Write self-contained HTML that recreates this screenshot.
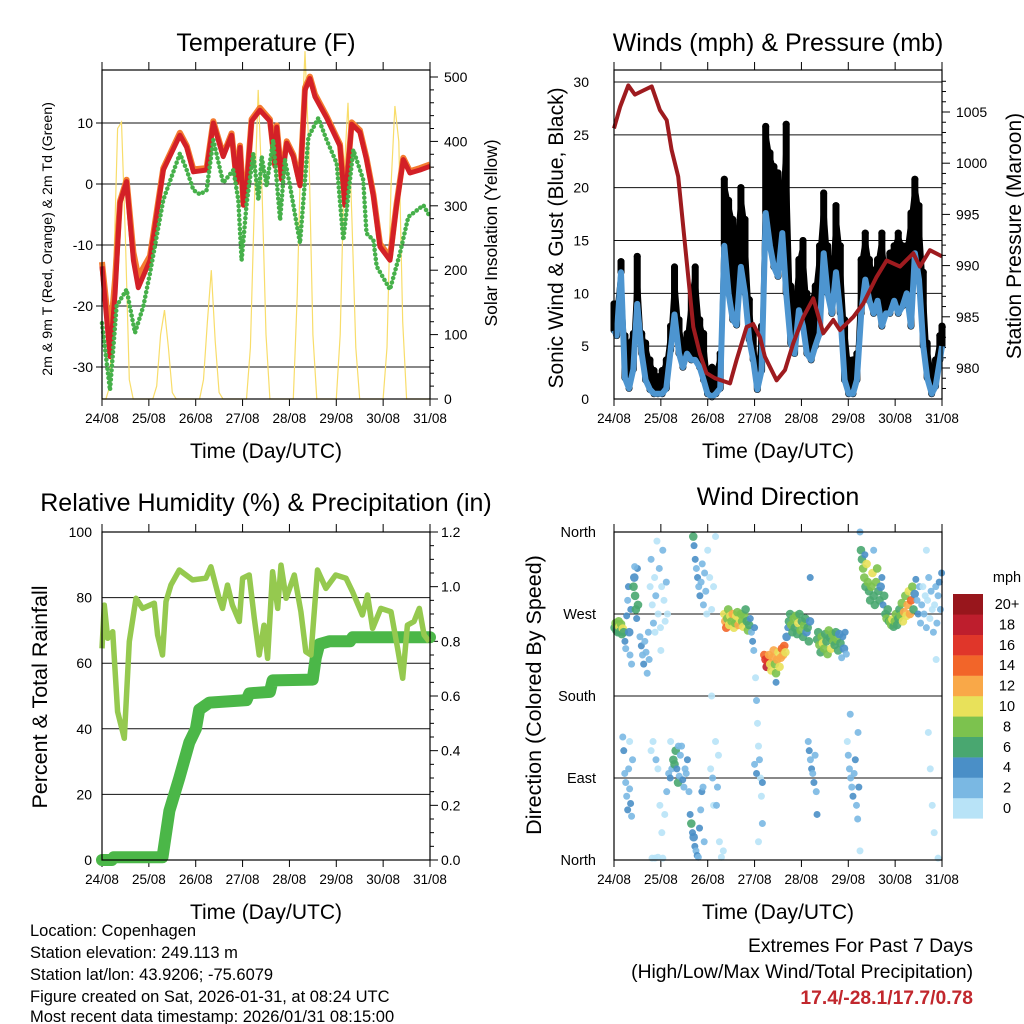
<!DOCTYPE html>
<html><head><meta charset="utf-8"><title>Weather station summary: temperature, winds, humidity and wind direction</title>
<style>
html,body{margin:0;padding:0;background:#fff;}
svg{display:block;font-family:"Liberation Sans",sans-serif;}
</style></head>
<body>
<svg id="chart" width="1024" height="1024" viewBox="0 0 1024 1024" xmlns="http://www.w3.org/2000/svg">
<rect width="1024" height="1024" fill="#fff"/>
<text x="266" y="51" font-size="25" text-anchor="middle">Temperature (F)</text>
<text x="778" y="51" font-size="25" text-anchor="middle">Winds (mph) &amp; Pressure (mb)</text>
<text x="266" y="511" font-size="25" text-anchor="middle">Relative Humidity (%) &amp; Precipitation (in)</text>
<text x="778" y="505" font-size="25" text-anchor="middle">Wind Direction</text>
<text transform="translate(52,239) rotate(-90)" font-size="14.2" text-anchor="middle">2m &amp; 9m T (Red, Orange) &amp; 2m Td (Green)</text>
<text transform="translate(497,233) rotate(-90)" font-size="17.5" text-anchor="middle">Solar Insolation (Yellow)</text>
<text transform="translate(563,238) rotate(-90)" font-size="21" text-anchor="middle">Sonic Wind &amp; Gust (Blue, Black)</text>
<text transform="translate(1021,236) rotate(-90)" font-size="21" text-anchor="middle">Station Pressure (Maroon)</text>
<text transform="translate(47,697) rotate(-90)" font-size="21.5" text-anchor="middle">Percent &amp; Total Rainfall</text>
<text transform="translate(541,695) rotate(-90)" font-size="21.5" text-anchor="middle">Direction (Colored By Speed)</text>
<text x="266" y="458" font-size="21" text-anchor="middle">Time (Day/UTC)</text>
<text x="778" y="458" font-size="21" text-anchor="middle">Time (Day/UTC)</text>
<text x="266" y="919" font-size="21" text-anchor="middle">Time (Day/UTC)</text>
<text x="778" y="919" font-size="21" text-anchor="middle">Time (Day/UTC)</text>
<g font-size="16.5">
<text x="30" y="936">Location: Copenhagen</text>
<text x="30" y="958">Station elevation: 249.113 m</text>
<text x="30" y="980">Station lat/lon: 43.9206; -75.6079</text>
<text x="30" y="1002">Figure created on Sat, 2026-01-31, at 08:24 UTC</text>
<text x="30" y="1024" dy="-2">Most recent data timestamp: 2026/01/31 08:15:00</text>
</g>
<g font-size="19.3" text-anchor="end">
<text x="973" y="952">Extremes For Past 7 Days</text>
<text x="973" y="978">(High/Low/Max Wind/Total Precipitation)</text>
<text x="973" y="1004" fill="#c1272d" font-weight="bold">17.4/-28.1/17.7/0.78</text>
</g>
</svg>
<script>
// ---------- Data ----------
const dayLabels = ["24/08","25/08","26/08","27/08","28/08","29/08","30/08","31/08"];
const tempTicks = [10,0,-10,-20,-30];
const solarTicks = [0,100,200,300,400,500];
const windTicks = [0,5,10,15,20,25,30];
const pressTicks = [980,985,990,995,1000,1005];
const rhTicks = [0,20,40,60,80,100];
const precipTicks = ["0.0","0.2","0.4","0.6","0.8","1.0","1.2"];
const dirTicks = ["North","East","South","West","North"];
const speedBins = ["0","2","4","6","8","10","12","14","16","18","20+"];

const tHours = [0,4.1,6.7,9.2,12.6,16.1,18.6,24.6,31.4,39.9,43.4,46.8,53.6,57,62.1,66.4,69,70.7,72.4,74.1,76.6,80.9,86,88.6,89.5,92,94.6,98,101.4,104,106.5,109.1,115.1,121.9,124.4,127.9,132.1,135.5,139,142.4,147.5,150.9,154.3,157.7,162.9,168];
const tRed = [-13.5,-28.3,-17.9,-3.1,0.4,-12.5,-17,-12.5,2.3,8,6,2,2.3,10,4.5,8,0.2,6,-3.5,-0.3,10.3,12.1,10.3,2.9,9.3,0.7,6.7,4.5,-0.3,15.4,17.3,14.3,10.8,6.2,-3.5,9.8,8.5,4,-2,-10.3,-12.5,-3.5,4,1.8,2.3,2.9];
const tOrange = [-12.8,-25.5,-15.5,-2.8,0.7,-11.2,-15.2,-11.8,2.6,8.4,6.3,2.4,2.6,10.3,4.8,8.3,0.5,6.3,-3.2,0,10.6,12.5,10.6,3.2,9.6,1,7,4.8,0,15.8,17.6,14.7,11.1,6.5,-3.2,10.1,8.8,4.3,-1.7,-9.8,-12,-3.2,4.3,2.1,2.6,3.2];
const tdHours = [0,4.1,7.5,12.6,16.9,21.2,24.6,31.4,39.9,43.4,46.8,50.2,53.6,57,62.1,67.3,69.8,71.5,74.1,77.5,80.1,81.8,84.3,87.7,91.2,93.7,96.3,101.4,105.7,110.8,115.1,120.2,123.6,128.7,133.8,135.5,139,140.7,147.5,152.6,156.9,164.6,168];
const tdGreen = [-22.8,-33.8,-20,-17.3,-24.4,-20,-14.6,-2.6,5,2.3,-1,-1.7,-1,7.2,0.2,2.3,-2.6,-12.5,-3.1,5,-2.6,4.5,-0.3,7.2,-5.9,4,-0.3,-9.7,7.7,10.8,7.2,3.4,-9.2,5.6,0.7,-8.1,-9.2,-13.5,-17.3,-11.4,-5.4,-3.5,-5.4];
const solarHours = [0,2,4,6,8,10,12,14,16,18,20,22,24,26,28,30,32,34,36,38,40,42,44,46,48,50,52,54,56,58,60,62,64,66,68,70,72,74,76,78,80,82,84,86,88,90,92,94,96,98,100,102,104,106,108,110,112,114,116,118,120,122,124,126,128,130,132,134,136,138,140,142,144,146,148,150,152,154,156,158,160,162,164,166,168];
const solarVals = [0,0,20,200,420,430,250,30,0,0,0,0,0,0,20,100,138,80,10,0,0,0,0,0,0,0,30,120,200,90,10,0,0,0,0,0,0,0,80,300,480,320,100,0,0,0,0,0,0,0,160,400,540,380,100,0,0,0,0,0,0,100,350,460,280,80,0,0,0,0,0,0,0,80,330,455,400,120,0,0,0,0,0,0,0];

const windHours = [0,1.4,3.6,5.6,7.7,9.9,11.9,14.2,16.2,18.4,20.5,22.5,24.7,26.8,29,31,33.3,35.3,37.4,39.6,41.6,43.9,45.9,47.9,50.2,52.2,54.4,56.5,58.7,60.8,62.8,65,67.1,69.3,71.3,73.4,75.6,77.7,79.9,81.9,84,86.2,88.2,90.5,92.5,94.7,96.8,98.8,101,103.1,105.3,107.4,109.4,111.6,113.7,115.9,118.1,120.2,122.4,124.4,126.6,128.7,130.8,133,135,137.2,139.3,141.3,143.5,145.6,147.8,149.9,152.1,154.1,156.2,158.4,160.4,162.7,164.7,166.9,168];
const windSpeed = [6.5,6,12,2,1,2.8,9,4.3,1.8,0.9,0.5,0.5,0.5,1,4.6,8,4.3,3,4.3,3.7,3.7,3,1.8,0.5,0.2,0.5,1,14.5,10,7.5,7,12.5,10,5.6,3.7,0.9,2.7,17.6,14.5,12.5,11.6,15.7,10,5.3,4.3,8.4,6.9,4.3,3.7,5,6.2,13.8,10,8.1,12,8.1,1.8,0.5,0.5,1.8,8.1,11.3,9.3,8.1,9.3,6.9,8.1,8.1,9.3,8.1,8.8,10,6.9,13.8,11.3,5,2,0.5,1.2,3.7,5];
const windGust = [9,9,13,6,5.3,6.2,13.5,6.2,5.3,3.7,2.7,2.1,2.7,3.7,6.9,12.5,7.5,5.3,6.2,10,12.5,7.5,6.2,2.7,3,2.7,4.3,20.8,18.8,17,15.4,20,17,9.4,6.2,2.7,6.9,25.8,23.3,22,21.4,19.5,26,10.7,9.4,13.2,15,10,9.4,10.7,14.5,19.5,14.5,12.5,18.3,14.5,7.5,3.7,3.7,4.3,13.2,15.7,13.2,12,13.2,15.7,12,13.8,14.5,15.7,14.5,14.5,17.6,20.8,18.3,12,5.3,2.7,3.7,6,6.9];
const pressHours = [0,3.1,7.3,10.7,15,19.3,23.5,27,29.5,32.9,37.2,40.6,44,47.4,51.7,59.4,62.8,67.9,71.3,74.8,77.3,83.3,87.6,91.8,97,102.1,107.2,112.3,115.7,122.6,127.7,134.5,139.6,146.5,153.3,156.7,161.8,168];
const pressVals = [1003.4,1005.5,1007.6,1006.7,1007.1,1007.5,1005.2,1004.2,1001.3,998.7,990.5,984,981.4,979.5,979,978.5,980.8,984,984.3,983,981.1,978.8,979.8,982.4,985,986.8,983.4,984.7,983.7,985,986.3,988.9,990.5,989.9,991.2,989.9,991.5,990.9];

const rhHours = [0,1.2,2.9,5.5,8,11.4,14,17.4,20.8,26.8,28.5,31,32.8,35.3,39.6,43,46.4,53.2,55.8,60,61.7,64.3,66.8,70.3,72,75.4,78,80.5,83,84.8,87.4,90,91.7,94.3,98.5,101.9,104.4,107,110.4,114.7,119.7,125,128.3,133.4,136,138.6,142.8,148,151.4,154,156.4,159.8,162.5,165,167.6];
const rhVals = [64.5,77.7,67.6,69.6,45.2,37.1,66.6,79.8,76.7,78.3,68.6,62.5,78.8,83.8,88.4,86.9,85.4,85.9,89.4,79.8,76.7,83.8,77.7,72.7,85.9,86.9,73.7,62.5,71.6,61.5,87.9,76.7,89.9,79.8,86.9,75.7,63.5,62.5,88.4,82.8,86.9,85.9,81.8,74.7,80.8,70.6,76.7,75.7,64.5,55.4,71.6,72.7,76.7,68.6,66.6];
const precipHours = [0,5,6,31,34.5,39.6,44.7,48.1,49.8,55,74,75.5,86,87.4,107.9,109.5,111.3,116.4,127,128.4,168];
const precipVals = [0,0,0.01,0.01,0.18,0.3,0.43,0.48,0.55,0.576,0.585,0.61,0.615,0.657,0.66,0.74,0.79,0.8,0.8,0.815,0.815];

const dirHours = [
0.3,0.8,1.2,1.6,2,2.4,2.8,3.2,3.6,4,4.5,5,
5.6,6,6.5,7,7.4,7.8,8.2,8.6,9,
5,5.5,6,6.5,7,7.5,8,8.5,9,9.5,4.5,8,
10,10.4,10.8,11.2,11.6,12,12.3,10.6,
13.3,14,14.6,15.2,15.8,16.4,17,17.6,18,
18.5,19,19.6,20.2,20.8,21.4,22,22.6,23.2,23.8,24.4,25,25.6,26.2,26.8,27.4,24,21,
19,20,21.5,22.5,23.5,24.5,19.5,21,22.5,25,27,26,
28,28.8,29.6,30.4,31,31.6,32.2,32.8,33.4,34,34.6,35.2,35.8,36.4,37,37.6,38.4,29,33,
39,39.6,40.2,40.8,41.4,42,42.6,43.2,43.8,44.4,45,45.6,46.2,
40.6,41,41.6,42.2,42.8,43.4,44,44.6,45.2,45.8,46.4,47,48,49,50,51,52,47.5,
49.5,50.5,51,52,53,54,55,56,53.5,50,52.5,
56.5,57,57.5,58,58.5,59,59.6,60.2,60.8,61.4,62,62.6,63.2,63.8,64.4,65,65.6,66.2,66.8,67.4,68,68.6,69.2,
69.8,70.4,71,71.6,72,
72.5,73,73.5,74,74.5,75,75.5,76,74,72,73,76,
77,77.6,78.2,78.8,79.4,80,80.6,81.2,81.8,82.4,83,83.6,84.2,84.8,85.4,86,86.6,87.2,87.8,83,
88.4,89,89.6,90.2,90.8,91.4,92,92.6,93.2,93.8,94.4,95,95.6,96.2,96.8,97.4,98,98.6,99.2,99.8,100.4,
99.5,100,100.6,101.2,101.8,102.4,103,103.6,104,100.5,
104,104.6,105.2,105.8,106.4,107,107.6,108.2,108.8,109.4,110,110.6,111.2,111.8,112.4,113,113.6,114.2,114.8,115.4,116,116.6,117.2,117.8,118.4,119,
119.5,120,120.6,121.2,121.8,122.4,123,123.6,124.2,124.8,125.4,126,121,125,
126,126.5,127,127.6,128.2,128.8,129.4,130,130.6,131.2,131.8,132.4,133,133.6,134.2,134.8,135.4,136,136.6,137.2,137.8,138.4,139,139.6,140.2,140.8,128.5,133,
141.4,142,142.6,143.2,143.8,144.4,145,145.6,146.2,146.8,147.4,148,148.6,149.2,149.8,150.4,151,151.6,152.2,152.8,153.4,154,154.6,155.2,155.8,156.4,
157,157.6,158.2,158.8,159.4,160,160.6,161.2,161.8,162.4,163,163.6,164.2,164.8,165.4,166,166.6,167.2,167.8,160,165,161,162,163,164,166];
const dirDeg = [
255,260,252,258,250,262,256,251,259,248,254,250,
240,232,268,285,300,250,225,275,215,
120,95,85,70,55,100,78,62,48,110,135,130,
300,310,290,275,265,320,280,322,
245,235,225,215,240,228,205,250,220,
300,330,280,260,310,290,350,270,320,255,300,340,285,262,305,270,230,250,
120,130,110,100,60,30,2,2,3,2,75,50,
95,90,100,110,105,120,100,85,92,115,125,88,80,100,95,110,75,130,125,
50,40,30,25,15,10,5,3,35,55,75,80,20,
355,345,330,320,310,300,290,305,325,280,315,295,340,310,275,300,355,270,
100,90,60,130,80,20,3,10,115,180,60,
270,262,255,265,275,258,268,262,270,255,260,268,272,258,264,270,262,256,268,275,262,252,258,
265,250,240,230,255,
200,175,150,125,110,90,70,40,20,105,95,85,
225,220,212,218,225,215,208,222,230,215,205,220,228,212,222,232,225,235,228,195,
245,255,262,270,258,250,265,255,268,248,260,270,252,262,245,258,265,250,255,240,262,
130,120,110,100,95,85,115,75,50,310,
242,250,236,228,245,238,232,248,240,226,252,244,232,248,240,236,250,242,230,248,238,222,245,232,250,226,
130,115,100,90,80,70,95,110,60,45,80,10,160,140,
360,340,330,320,310,300,325,305,295,285,300,315,290,280,305,320,295,285,300,310,280,290,270,265,275,262,335,340,
262,258,264,256,262,270,258,265,275,268,282,262,272,290,268,280,295,270,285,300,275,292,308,285,270,300,
260,280,300,270,290,255,285,310,265,295,275,250,280,300,260,290,305,275,315,340,220,140,100,60,30,2];
const dirSpeed = [
7,8,7,9,6,8,10,7,8,6,11,7,
4,3,4,3,4,5,3,4,3,
4,3,2,3,4,2,3,4,3,2,2,1,
6,5,7,6,4,4,6,3,
3,4,3,4,3,2,3,2,3,
1,2,1,2,1,2,1,1,2,1,1,2,1,1,2,1,1,0,
1,1,2,1,1,1,0,0,1,1,2,1,
3,4,3,6,7,6,4,7,3,2,3,4,3,2,3,4,3,1,2,
4,6,4,5,4,3,4,3,4,3,4,3,2,
6,4,4,3,4,3,4,3,2,2,3,2,1,1,1,1,1,1,
1,2,1,1,2,1,1,1,1,1,2,
10,12,14,9,8,11,10,9,12,10,8,11,9,12,10,8,9,11,8,7,6,9,6,
4,3,4,3,4,
1,2,1,1,2,1,1,2,1,3,4,4,
14,16,18,17,12,10,11,13,12,8,9,12,11,10,13,14,12,15,10,4,
5,4,6,7,8,6,9,7,8,6,10,7,8,6,7,9,6,5,7,6,5,
3,4,3,4,3,4,3,2,4,4,
6,7,8,6,9,10,8,7,6,8,9,7,10,8,9,6,7,8,6,5,6,3,4,5,4,3,
1,2,3,2,3,4,3,4,2,3,4,1,2,2,
3,7,6,8,9,7,10,8,7,6,9,10,7,6,8,9,7,6,5,4,4,6,7,8,6,7,4,3,
9,8,10,7,9,8,6,7,6,9,8,10,12,9,11,13,10,12,14,8,6,5,4,3,4,3,
2,2,1,2,1,2,1,2,1,2,1,2,1,2,2,3,4,3,4,1,1,1,1,1,0,1];
const speedColors = ["#b8e3f7","#7ab8e3","#4a8fc7","#49a770","#7cc24e","#e8e15a","#f9a848","#f26529","#e0362a","#be1e2d","#98161c"];

// ---------- helpers ----------
const NS = "http://www.w3.org/2000/svg";
const svg = document.getElementById("chart");
function mk(tag, attrs, parent){
  const el = document.createElementNS(NS, tag);
  for (const k in attrs) el.setAttribute(k, attrs[k]);
  (parent || svg).appendChild(el);
  return el;
}
const X0L = 102, X0R = 614, PW = 328;
const xL = h => X0L + h * PW / 168;
const xR = h => X0R + h * PW / 168;
const yTemp = v => 184 - v * 6.1;
const ySolar = v => 399 - v * 0.644;
const yWind = v => 399 - v * 10.567;
const yPress = v => 112 + (1005 - v) * 10.24;
const yRH = v => 860 - v * 3.28;
const yPrecip = v => 860 - v * 273.33;
const yDir = d => 860 - d * 328 / 360;

function pts(hs, vs, fx, fy){ return hs.map((h,i)=>fx(h).toFixed(1)+","+fy(vs[i]).toFixed(1)).join(" "); }

function frame(x, y, w, h, name){
  const g = mk("g", {});
  
  
  for (let i = 0; i < dayLabels.length; i++){
    const xx = x + i * w / 7;
    const t1 = mk("line", {x1:xx, y1:y-8, x2:xx, y2:y, stroke:"#000", "stroke-width":1}, g);
    
    
    const t2 = mk("line", {x1:xx, y1:y+h, x2:xx, y2:y+h+7, stroke:"#000", "stroke-width":1}, g);
    
    
    const lb = mk("text", {x:xx, y:y+h+24, "font-size":13.5, "text-anchor":"middle"}, g);
    
    
    lb.textContent = dayLabels[i];
  }
  return g;
}
function box(x, y, w, h, name){
  const r = mk("rect", {x:x, y:y, width:w, height:h, fill:"none", stroke:"#000", "stroke-width":1.2});
  
  
}
function hgrid(x, w, yy, name){
  const l = mk("line", {x1:x, x2:x+w, y1:yy, y2:yy, stroke:"#111", "stroke-width":1});
  
  
}
function label(x, y, txt, anchor, name, size){
  const t = mk("text", {x:x, y:y+5, "font-size":size||14, "text-anchor":anchor});
  
  
  t.textContent = txt;
}
function rtick(x, y, len, name){
  const l = mk("line", {x1:x, x2:x+len, y1:y, y2:y, stroke:"#000", "stroke-width":1});
  
  
}

// ---------- Panel 1: Temperature ----------
frame(X0L, 70, PW, 329, "temperature");
tempTicks.forEach(v => { hgrid(X0L, PW, yTemp(v), "temp-gridline"); label(93, yTemp(v), String(v), "end", "temp-tick-label"); rtick(X0L-6, yTemp(v), 6, "temp-left-tick"); });
for (let v = 0; v <= 500; v += 20) rtick(X0L+PW, ySolar(v), v % 100 === 0 ? 8 : 4, "solar-tick");
solarTicks.forEach(v => label(444, ySolar(v), String(v), "start", "solar-tick-label"));
const solarLine = mk("polyline", {points:pts(solarHours, solarVals, xL, ySolar), fill:"none", stroke:"#f8dd6a", "stroke-width":1.2});


const orangeLine = mk("polyline", {points:pts(tHours, tOrange, xL, yTemp), fill:"none", stroke:"#f47b30", "stroke-width":6, "stroke-linejoin":"round"});


const redLine = mk("polyline", {points:pts(tHours, tRed, xL, yTemp), fill:"none", stroke:"#d32027", "stroke-width":5, "stroke-linejoin":"round"});


const greenLine = mk("polyline", {points:pts(tdHours, tdGreen, xL, yTemp), fill:"none", stroke:"#46b04a", "stroke-width":4.5, "stroke-linecap":"round", "stroke-dasharray":"0.1 4.5"});


box(X0L, 70, PW, 329, "temperature");

// ---------- Panel 2: Winds ----------
frame(X0R, 70, PW, 329, "winds");
windTicks.forEach(v => { hgrid(X0R, PW, yWind(v), "wind-gridline"); label(589, yWind(v), String(v), "end", "wind-tick-label"); });
for (let v = 978; v <= 1008; v += 1) rtick(X0R+PW, yPress(v), v % 5 === 0 ? 8 : 4, "pressure-tick");
pressTicks.forEach(v => label(956, yPress(v), String(v), "start", "pressure-tick-label"));
const gustG = mk("g", {});


windHours.forEach((h, i) => {
  const x = xR(h);
  const seg = mk("line", {x1:x, x2:x, y1:yWind(windSpeed[i]), y2:yWind(windGust[i]), stroke:"#000", "stroke-width":7, "stroke-linecap":"round"}, gustG);
  
  
  const c = mk("circle", {cx:x, cy:yWind(windGust[i]), r:3.5, fill:"#000"}, gustG);
  
  
});
const gustLine = mk("polyline", {points:pts(windHours, windGust, xR, yWind), fill:"none", stroke:"#000", "stroke-width":3, "stroke-linejoin":"round"});


const windLine = mk("polyline", {points:pts(windHours, windSpeed, xR, yWind), fill:"none", stroke:"#4d95d0", "stroke-width":6, "stroke-linejoin":"round"});


const pressLine = mk("polyline", {points:pts(pressHours, pressVals, xR, yPress), fill:"none", stroke:"#9e1b1f", "stroke-width":4, "stroke-linejoin":"round"});


box(X0R, 70, PW, 329, "winds");

// ---------- Panel 3: Humidity & Precip ----------
frame(X0L, 532, PW, 328, "humidity");
rhTicks.forEach(v => { if (v > 0 && v < 100) hgrid(X0L, PW, yRH(v), "rh-gridline"); label(92, yRH(v), String(v), "end", "rh-tick-label"); });
for (let i = 0; i <= 24; i++) rtick(X0L+PW, yPrecip(i*0.05), i % 4 === 0 ? 8 : 4, "precip-tick");
precipTicks.forEach(t => label(441, yPrecip(parseFloat(t)), t, "start", "precip-tick-label"));
const precipLine = mk("polyline", {points:pts(precipHours, precipVals, xL, yPrecip), fill:"none", stroke:"#4bb748", "stroke-width":12, "stroke-linejoin":"round", "stroke-linecap":"round"});


const rhLine = mk("polyline", {points:pts(rhHours, rhVals, xL, yRH), fill:"none", stroke:"#95c94f", "stroke-width":5.5, "stroke-linejoin":"round"});


box(X0L, 532, PW, 328, "humidity");

// ---------- Panel 4: Wind direction ----------
frame(X0R, 532, PW, 328, "direction");
dirTicks.forEach((t, i) => { const yy = yDir(i*90); hgrid(X0R, PW, yy, "direction-gridline"); label(596, yy, t, "end", "direction-tick-label", 14.5); });
const dirG = mk("g", {});


dirHours.forEach((h, i) => {
  const s = dirSpeed[i];
  const bin = Math.min(10, Math.floor(s / 2));
  const c = mk("circle", {cx:xR(h), cy:yDir(dirDeg[i]), r: s >= 5 ? 4.3 : 3.5, fill:speedColors[bin], "fill-opacity":0.9}, dirG);
  
  
});
box(X0R, 532, PW, 328, "direction");

// colorbar
const cbG = mk("g", {});


label(1007, 577, "mph", "middle", "colorbar-unit", 14.5);
speedBins.forEach((lab, i) => {
  const top = 594 + (10 - i) * 20.4;
  const r = mk("rect", {x:953, y:top, width:30, height:20.6, fill:speedColors[i]}, cbG);
  
  
  label(1007, top + 10, lab, "middle", "colorbar-label", 14.5);
});
</script>
</body></html>
